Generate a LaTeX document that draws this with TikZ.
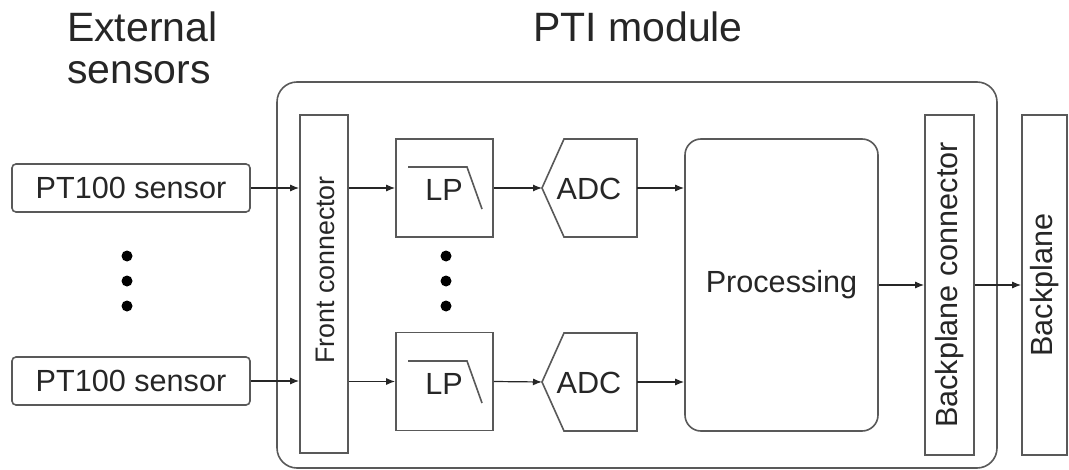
\documentclass[tikz,border=0pt]{standalone}
\usepackage{fontspec}
\setmainfont{Liberation Sans}
\usetikzlibrary{arrows.meta}
\begin{document}
\begin{tikzpicture}[x=0.5pt,y=-0.5pt,
  box/.style={draw=black!65,line width=0.8pt,fill=white},
  lbl/.style={font=\fontsize{15.3}{17}\selectfont,text=black!85},
  ttl/.style={font=\fontsize{20.5}{21}\selectfont,text=black!85},
  conn/.style={draw=black!85,line width=0.6pt,-{Latex[length=4.5pt,width=3.5pt]}},
  dot/.style={circle,fill=black,inner sep=0pt,minimum size=5.5pt}]
\useasboundingbox (0,0) rectangle (1069,470);
% outer module
\draw[box,rounded corners=10pt] (277,82) rectangle (997,468);
\node[ttl,anchor=base] (ptititle) at (638,42) {PTI module};
\node[ttl,anchor=base west,align=left] (exttitle) at (60,84) {External\\sensors};
% sensors
\node[box,rounded corners=2pt,minimum width=119pt,minimum height=24pt,lbl] (s1) at (131,188) {PT100 sensor};
\node[box,rounded corners=2pt,minimum width=119pt,minimum height=24pt,lbl] (s2) at (131,381) {PT100 sensor};
% front connector
\node[box,minimum width=24pt,minimum height=169pt] (fc) at (324,284) {};
\node[lbl,font=\fontsize{13.4}{15}\selectfont,rotate=90] (fct) at (325,270) {Front connector};
% LP filters
\node[box,minimum width=48.5pt,minimum height=49pt] (lp1) at (444.5,188) {};
\node[box,minimum width=48.5pt,minimum height=49pt] (lp2) at (444.5,381.5) {};
\node[lbl] (lp1t) at (444,190) {LP};
\node[lbl] (lp2t) at (444,384) {LP};
\draw[draw=black!65,line width=0.8pt] (408,167) -- (467,167) -- (482,209);
\draw[draw=black!65,line width=0.8pt] (408,361) -- (467,361) -- (482,403);
% ADCs
\draw[box] (542,188) -- (564,139) -- (637,139) -- (637,237) -- (564,237) -- cycle;
\coordinate (adc1in) at (542,188);
\coordinate (adc1out) at (637,188);
\node[lbl] (adc1t) at (589,189) {ADC};
\draw[box] (542,382) -- (564,333) -- (637,333) -- (637,431) -- (564,431) -- cycle;
\coordinate (adc2in) at (542,382);
\coordinate (adc2out) at (637,382);
\node[lbl] (adc2t) at (589,383) {ADC};
% processing
\node[box,rounded corners=8pt,minimum width=96.5pt,minimum height=146pt,lbl] (proc) at (781.5,285) {Processing};
% backplane connector
\node[box,minimum width=24.5pt,minimum height=170pt] (bc) at (949.5,285) {};
\node[lbl,rotate=90] (bct) at (bc.center) {Backplane connector};
% backplane
\node[box,minimum width=22.5pt,minimum height=170pt] (bp) at (1044.5,285) {};
\node[lbl,rotate=90] (bpt) at (bp.center) {Backplane};
% dots
\foreach \y [count=\i] in {256,281,306}{
  \node[dot] (ld\i) at (127,\y) {};
  \node[dot] (md\i) at (446,\y) {};
}
% connectors
\draw[conn] (s1.east) -- (fc.west |- s1.east);
\draw[conn] (s2.east) -- (fc.west |- s2.east);
\draw[conn] (fc.east |- s1.east) -- (lp1.west);
\draw[conn] (fc.east |- lp2.west) -- (lp2.west);
\draw[conn] (lp1.east) -- (adc1in);
\draw[conn] (lp2.east) -- (adc2in);
\draw[conn] (adc1out) -- (proc.west |- adc1out);
\draw[conn] (adc2out) -- (proc.west |- adc2out);
\draw[conn] (proc.east) -- (bc.west |- proc.east);
\draw[conn] (bc.east |- proc.east) -- (bp.west |- proc.east);
\end{tikzpicture}
\end{document}
